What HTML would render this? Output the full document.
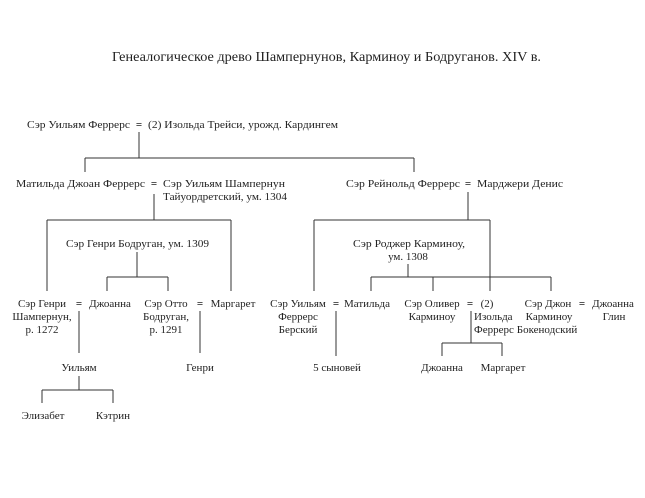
<!DOCTYPE html>
<html><head><meta charset="utf-8"><style>
html,body{margin:0;padding:0;background:#fff;}
svg{display:block}
text{font-family:"Liberation Serif",serif;font-size:11px;fill:#222;}
.t{font-size:13.5px}
.e{font-weight:bold}
line{stroke:#333;stroke-width:1}
</style></head><body>
<svg width="645" height="498" viewBox="0 0 645 498" xmlns="http://www.w3.org/2000/svg">
<text class="t" x="112" y="61" textLength="429" lengthAdjust="spacingAndGlyphs">Генеалогическое древо Шампернунов, Карминоу и Бодруганов. XIV в.</text>

<text x="27" y="128" textLength="103" lengthAdjust="spacingAndGlyphs">Сэр Уильям Феррерс</text>
<text x="139" y="128" text-anchor="middle" class="e">=</text>
<text x="148" y="128" textLength="190" lengthAdjust="spacingAndGlyphs">(2) Изольда Трейси, урожд. Кардингем</text>
<line x1="139" y1="132" x2="139" y2="158"/>
<line x1="85" y1="158" x2="414" y2="158"/>
<line x1="85" y1="158" x2="85" y2="172"/>
<line x1="414" y1="158" x2="414" y2="172"/>

<text x="16" y="187" textLength="129" lengthAdjust="spacingAndGlyphs">Матильда Джоан Феррерс</text>
<text x="154" y="187" text-anchor="middle" class="e">=</text>
<text x="163" y="187" textLength="122" lengthAdjust="spacingAndGlyphs">Сэр Уильям Шампернун</text>
<text x="163" y="200" textLength="124" lengthAdjust="spacingAndGlyphs">Тайуордретский, ум. 1304</text>
<line x1="154" y1="194" x2="154" y2="220"/>
<line x1="47" y1="220" x2="231" y2="220"/>
<line x1="47" y1="220" x2="47" y2="291"/>
<line x1="231" y1="220" x2="231" y2="291"/>

<text x="346" y="187" textLength="114" lengthAdjust="spacingAndGlyphs">Сэр Рейнольд Феррерс</text>
<text x="468" y="187" text-anchor="middle" class="e">=</text>
<text x="477" y="187" textLength="86" lengthAdjust="spacingAndGlyphs">Марджери Денис</text>
<line x1="468" y1="192" x2="468" y2="220"/>
<line x1="314" y1="220" x2="490" y2="220"/>
<line x1="314" y1="220" x2="314" y2="291"/>
<line x1="490" y1="220" x2="490" y2="291"/>

<text x="66" y="247" textLength="143" lengthAdjust="spacingAndGlyphs">Сэр Генри Бодруган, ум. 1309</text>
<line x1="137" y1="252" x2="137" y2="277"/>
<line x1="107" y1="277" x2="168" y2="277"/>
<line x1="107" y1="277" x2="107" y2="291"/>
<line x1="168" y1="277" x2="168" y2="291"/>

<text x="353" y="247" textLength="112" lengthAdjust="spacingAndGlyphs">Сэр Роджер Карминоу,</text>
<text x="408" y="260" text-anchor="middle">ум. 1308</text>
<line x1="408" y1="264" x2="408" y2="277"/>
<line x1="371" y1="277" x2="551" y2="277"/>
<line x1="371" y1="277" x2="371" y2="291"/>
<line x1="433" y1="277" x2="433" y2="291"/>
<line x1="551" y1="277" x2="551" y2="291"/>

<text x="42" y="307" text-anchor="middle">Сэр Генри</text>
<text x="42" y="320" text-anchor="middle">Шампернун,</text>
<text x="42" y="333" text-anchor="middle">р. 1272</text>
<text x="79" y="307" text-anchor="middle" class="e">=</text>
<text x="110" y="307" text-anchor="middle">Джоанна</text>
<line x1="79" y1="311" x2="79" y2="353"/>
<text x="79" y="371" text-anchor="middle">Уильям</text>
<line x1="79" y1="376" x2="79" y2="390"/>
<line x1="42" y1="390" x2="113" y2="390"/>
<line x1="42" y1="390" x2="42" y2="403"/>
<line x1="113" y1="390" x2="113" y2="403"/>
<text x="43" y="419" text-anchor="middle">Элизабет</text>
<text x="113" y="419" text-anchor="middle">Кэтрин</text>

<text x="166" y="307" text-anchor="middle">Сэр Отто</text>
<text x="166" y="320" text-anchor="middle">Бодруган,</text>
<text x="166" y="333" text-anchor="middle">р. 1291</text>
<text x="200" y="307" text-anchor="middle" class="e">=</text>
<text x="233" y="307" text-anchor="middle">Маргарет</text>
<line x1="200" y1="311" x2="200" y2="353"/>
<text x="200" y="371" text-anchor="middle">Генри</text>

<text x="298" y="307" text-anchor="middle">Сэр Уильям</text>
<text x="298" y="320" text-anchor="middle">Феррерс</text>
<text x="298" y="333" text-anchor="middle">Берский</text>
<text x="336" y="307" text-anchor="middle" class="e">=</text>
<text x="367" y="307" text-anchor="middle">Матильда</text>
<line x1="336" y1="311" x2="336" y2="356"/>
<text x="337" y="371" text-anchor="middle">5 сыновей</text>

<text x="432" y="307" text-anchor="middle">Сэр Оливер</text>
<text x="432" y="320" text-anchor="middle">Карминоу</text>
<text x="470" y="307" text-anchor="middle" class="e">=</text>
<text x="487" y="307" text-anchor="middle">(2)</text>
<text x="474" y="320">Изольда</text>
<text x="474" y="333">Феррерс</text>
<line x1="471" y1="311" x2="471" y2="343"/>
<line x1="442" y1="343" x2="502" y2="343"/>
<line x1="442" y1="343" x2="442" y2="356"/>
<line x1="502" y1="343" x2="502" y2="356"/>
<text x="442" y="371" text-anchor="middle">Джоанна</text>
<text x="503" y="371" text-anchor="middle">Маргарет</text>

<text x="548" y="307" text-anchor="middle">Сэр Джон</text>
<text x="549" y="320" text-anchor="middle">Карминоу</text>
<text x="547" y="333" text-anchor="middle">Бокенодский</text>
<text x="582" y="307" text-anchor="middle" class="e">=</text>
<text x="613" y="307" text-anchor="middle">Джоанна</text>
<text x="614" y="320" text-anchor="middle">Глин</text>
</svg>
</body></html>
